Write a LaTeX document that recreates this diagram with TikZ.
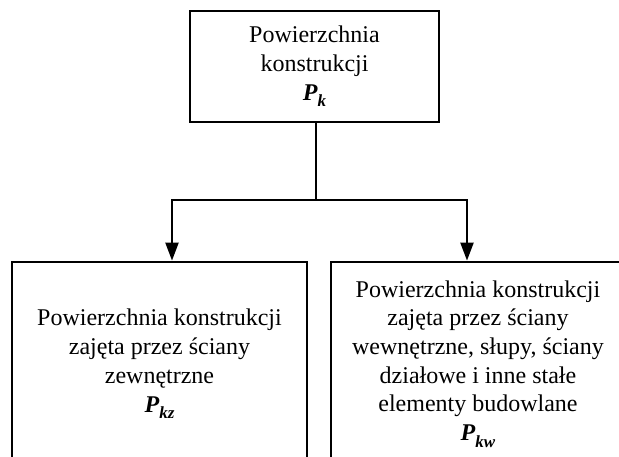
\documentclass[tikz,border=0pt]{standalone}
\usepackage{fontspec}
\setmainfont{Liberation Serif}
\usetikzlibrary{arrows.meta}
\newcommand{\PSym}[1]{\textbf{\textit{P}}\raisebox{-0.28em}{\fontsize{17}{17}\selectfont\textbf{\textit{#1}}}}
\begin{document}
\begin{tikzpicture}[x=1pt,y=-1pt,
  box/.style={draw, line width=2.8pt, align=center, inner sep=0pt,
    font=\fontsize{24}{28.7}\selectfont},
  conn/.style={line width=2.2pt},
  arr/.style={conn, -{Triangle[length=18pt,width=13pt]}}]
\useasboundingbox (0,0) rectangle (619,456);
\clip (0,0) rectangle (619,456);
\node[box, minimum width=249pt, minimum height=111pt] (top) at (314.5,66.5)
  {Powierzchnia\\konstrukcji\\\PSym{k}};
\node[box, minimum width=295pt, minimum height=204pt] (lb) at (159.5,364)
  {Powierzchnia konstrukcji\\zajęta przez ściany\\zewnętrzne\\\PSym{kz}};
\node[box, minimum width=294pt, minimum height=204pt] (rb) at (478,364)
  {Powierzchnia konstrukcji\\zajęta przez ściany\\wewnętrzne, słupy, ściany\\działowe i inne stałe\\elementy budowlane\\\PSym{kw}};
\coordinate (j) at (316,200);
\coordinate (jl) at (172,200);
\coordinate (jr) at (467,200);
\draw[arr] (j) -- (jl) -- (jl |- lb.north);
\draw[arr] (top.south -| j) -- (j) -- (jr) -- (jr |- rb.north);
\end{tikzpicture}
\end{document}
